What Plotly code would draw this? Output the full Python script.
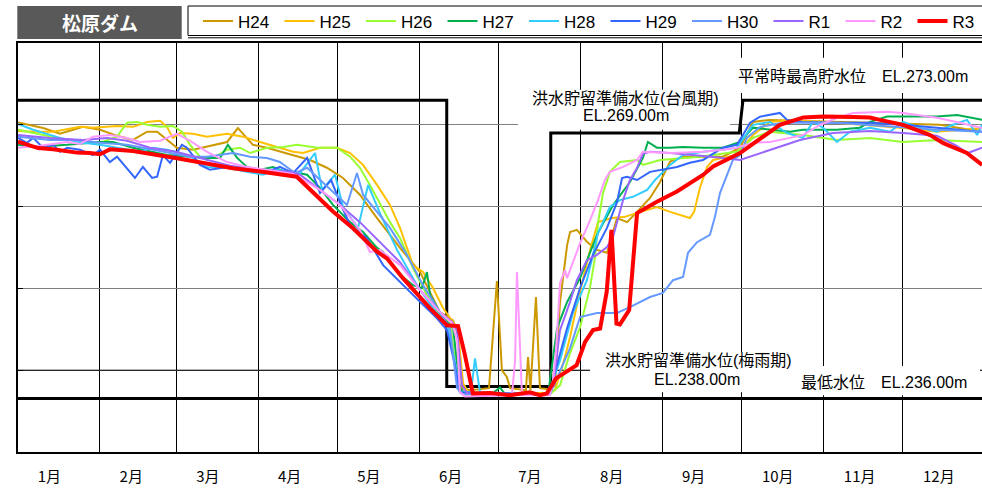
import plotly.graph_objects as go

# ---------------- data (day of year, elevation EL.m) ----------------
SERIES = ["H24", "H25", "H26", "H27", "H28", "H29", "H30", "R1", "R2", "R3"]
COLORS = ["#CC9900", "#FFC000", "#99FF33", "#00B050", "#33CCFF",
          "#3366FF", "#6699FF", "#9966FF", "#FF99FF", "#FF0000"]

H24_DAY = [0, 9.5, 15.9, 24.6, 31.1, 37.5, 43.6, 48.9, 52.7, 60.2, 66.3, 73.9, 79.2, 83.3, 89, 94.3, 104.2, 110.6, 117,
           123.1, 129.5, 136, 144.7, 152.3, 159.8, 164.8, 166.7, 168.2, 171.2, 178.4, 181.4, 183.3, 185.2, 186.4, 192.4,
           193.2, 194.1, 196.2, 197.7, 201.5, 203.4, 205.3, 208, 209.1, 211.7, 215.5, 219.3, 223.1, 226.9, 230.7, 234.5,
           239.4, 243.2, 247, 251.9, 259.5, 267, 273.5, 278.4, 284.8, 296.2, 315.2, 334.1, 349.2, 360.6, 365.2]
H24_EL = [270.3, 269.6, 268.9, 269.75, 269.4, 268.65, 268.15, 269.15, 269.15, 267.2, 266.95, 267.55, 267.9, 269.6, 267.55,
          267.2, 266.3, 265.7, 264.75, 263.5, 261.45, 258.6, 254.95, 252.0, 247.1, 246.1, 244.3, 237.8, 237.55, 237.8,
          250.9, 240.0, 239.15, 237.8, 237.55, 241.6, 237.55, 248.95, 237.8, 237.65, 238.15, 248.3, 255.3, 256.9, 257.15,
          255.7, 254.7, 254.35, 258.6, 258.1, 259.35, 261.05, 263.0, 265.5, 266.1, 266.1, 266.1, 267.2, 270.35, 270.6,
          270.5, 270.35, 270.1, 270.0, 269.4, 269.6]

H25_DAY = [0, 5.7, 13.3, 23.5, 28.4, 34.8, 37.5, 43.6, 48.9, 53.8, 56.4, 58.7, 61.4, 66.3, 71.6, 79.2, 85.2, 91.7, 98.1,
           104.2, 108, 114.4, 120.8, 125.8, 130.7, 136, 140.9, 144.7, 149.6, 153.4, 157.2, 161, 164.8, 166.7, 168.6, 170.5,
           182.6, 199.6, 203.4, 207.2, 209.1, 212.1, 216.7, 219.7, 225, 229.9, 235.6, 242, 247, 254.5, 256.1, 258.3, 261,
           263.3, 272.3, 278.4, 284.8, 292.4, 310.2, 335.2, 348.1, 365.2]
H25_EL = [269.25, 269.15, 269.15, 269.75, 269.65, 269.75, 269.85, 269.75, 270.35, 270.5, 269.75, 268.4, 269.0, 268.9,
          268.55, 268.9, 268.55, 267.9, 267.3, 266.7, 266.55, 267.2, 267.2, 266.55, 265.1, 262.65, 260.2, 257.4, 252.85,
          252.0, 250.05, 247.6, 245.9, 244.55, 238.4, 237.3, 237.2, 237.2, 237.55, 241.6, 244.05, 248.55, 254.7, 258.1,
          258.6, 258.75, 259.35, 259.95, 259.35, 258.6, 259.35, 262.3, 264.85, 265.7, 266.3, 268.75, 270.35, 270.6,
          270.25, 269.6, 269.15, 269.6]

H26_DAY = [0, 9.5, 18.6, 31.1, 37.5, 41.3, 45.1, 48.9, 53.8, 58.7, 62.1, 65.2, 68.9, 73.9, 79.2, 84.1, 87.9, 94.3, 100.4,
           105.7, 113.3, 120.8, 125.8, 129.5, 133.3, 140.9, 144.7, 149.6, 154.9, 159.8, 163.6, 165.5, 167.4, 171.2, 201.5,
           205.3, 209.1, 212.9, 216.7, 218.6, 219.7, 221.6, 224.2, 228, 234.5, 236.7, 243.2, 258.3, 272.3, 278.4, 284.8,
           297.3, 310.2, 322.7, 335.2, 348.1, 365.2]
H26_EL = [269.4, 268.75, 268.15, 267.8, 268.55, 270.25, 270.35, 270.0, 269.75, 269.85, 269.15, 267.55, 266.1, 265.95,
          266.95, 267.2, 266.55, 267.2, 267.3, 267.55, 267.2, 267.2, 266.1, 264.75, 262.65, 258.1, 256.15, 252.5, 249.2,
          246.75, 245.9, 241.2, 237.3, 237.05, 237.05, 238.15, 242.1, 245.25, 250.15, 253.85, 258.0, 261.65, 264.25,
          265.45, 265.7, 265.1, 265.7, 266.1, 266.7, 268.4, 269.15, 268.75, 268.15, 268.4, 267.9, 268.15, 267.9]

H27_DAY = [0, 5.7, 18.6, 31.1, 36, 43.6, 56.4, 64, 71.6, 76.5, 79.5, 83, 86.7, 91.7, 96.6, 100.4, 104.2, 109.5, 114.4,
           119.3, 125.8, 130.7, 136, 138.3, 144.7, 149.6, 153, 154.9, 156.1, 161, 164.8, 167.4, 169.7, 179.9, 182.6, 184.5,
           200.8, 204.2, 208, 212.9, 219.3, 225.4, 231.8, 236.7, 238.6, 242, 247, 251.9, 259.5, 267, 273.5, 278.4, 284.8,
           292.4, 297.3, 310.2, 318.9, 322.7, 329.2, 335.2, 348.1, 355.7, 360.6, 365.2]
H27_EL = [267.55, 267.3, 267.55, 267.9, 267.9, 267.2, 266.3, 266.1, 265.95, 265.95, 267.55, 265.95, 264.85, 264.5, 264.85,
          264.35, 264.25, 263.9, 262.3, 260.2, 258.1, 256.9, 254.95, 254.45, 251.65, 250.4, 250.05, 252.0, 249.2, 246.35,
          245.15, 237.8, 237.05, 237.2, 237.9, 237.05, 237.05, 245.15, 248.35, 251.25, 256.55, 260.2, 263.0, 265.95, 267.9,
          267.2, 267.2, 267.3, 267.2, 267.2, 267.9, 269.65, 269.4, 269.15, 269.4, 269.4, 269.65, 270.35, 271.0, 271.0,
          271.0, 271.2, 270.85, 270.6]

H28_DAY = [0, 5.7, 15.9, 24.6, 31.1, 37.5, 46.2, 51.1, 56.4, 61.4, 66.3, 71.6, 79.2, 86.7, 92.8, 98.1, 106.8, 112.5, 115.2,
           120.1, 123.1, 128.8, 132.6, 137.1, 143.6, 151.1, 157.2, 162.5, 165.5, 167.4, 171.6, 173.1, 175, 200.8, 205.3,
           210.2, 215.5, 219.7, 224.2, 228, 232.9, 238.3, 241.3, 247, 251.9, 259.5, 267, 272.3, 278.4, 284.8, 291.3, 297.3,
           301.1, 304.9, 310.2, 315.2, 322.7, 330.3, 335.2, 341.7, 348.1, 354.2, 359.5, 363.3, 365.2]
H28_EL = [270.1, 269.4, 268.4, 267.8, 267.55, 267.2, 266.7, 267.2, 266.95, 266.55, 265.95, 264.85, 264.75, 264.25, 263.9,
          264.5, 264.1, 266.55, 262.05, 263.9, 259.95, 257.4, 262.65, 259.2, 254.7, 250.4, 247.6, 245.5, 241.0, 237.3,
          237.3, 241.45, 237.3, 237.05, 241.2, 247.0, 251.0, 256.75, 259.95, 260.8, 261.2, 262.05, 263.25, 265.1, 266.3,
          266.7, 266.95, 267.2, 270.0, 270.35, 269.0, 268.4, 270.35, 269.65, 267.9, 269.15, 269.65, 269.15, 270.35,
          269.65, 269.15, 270.0, 270.6, 268.75, 270.0]

H29_DAY = [0, 3.4, 5.7, 9.5, 13.3, 15.9, 18.6, 23.5, 28.4, 31.1, 34.8, 37.5, 44.3, 47.3, 50.8, 52.7, 54.9, 57.6, 62.1, 64,
           68.9, 72.7, 79.2, 87.9, 94.3, 99.2, 104.2, 109.5, 114.4, 118.6, 122.7, 125.8, 132.2, 138.3, 144.7, 152.3, 158.7,
           162.5, 165.5, 167.4, 201.5, 203.4, 208, 212.9, 217.8, 223.1, 226.9, 228.8, 230.7, 234.5, 239.4, 244.3, 249.6,
           254.5, 259.5, 267, 272.3, 274.6, 277.3, 281.1, 288.6, 291.3, 297.3, 310.2, 322.7, 335.2, 348.1, 365.2]
H29_EL = [268.4, 267.8, 268.4, 267.2, 267.55, 266.7, 267.2, 266.95, 266.3, 266.95, 265.45, 266.1, 263.5, 264.85, 263.5,
          263.65, 266.3, 265.35, 267.55, 267.2, 265.1, 264.5, 264.85, 264.5, 264.25, 264.85, 264.1, 265.95, 261.65, 263.25,
          259.95, 257.75, 256.15, 252.85, 250.75, 248.35, 246.35, 244.9, 240.6, 237.3, 237.05, 239.75, 245.15, 250.05,
          254.1, 257.4, 260.55, 263.5, 263.65, 263.25, 264.25, 264.5, 264.85, 265.35, 265.7, 267.2, 267.55, 268.75, 270.25,
          271.0, 271.45, 270.6, 270.35, 270.25, 270.25, 270.0, 269.65, 269.15]

H30_DAY = [0, 12.1, 22.3, 31.1, 41.3, 51.1, 58.7, 65.2, 71.6, 81.4, 87.9, 94.3, 99.2, 104.9, 109.5, 119.3, 124.6, 128.4,
           130.7, 136, 140.9, 147.3, 153.4, 159.8, 163.6, 166.3, 168.2, 201.5, 204.2, 209.1, 212.9, 219.3, 226.9, 231.8,
           239.4, 244.3, 248.1, 251.9, 253.8, 257.2, 262.1, 264, 265.9, 267.8, 270.8, 273.5, 276.1, 281.1, 289.8, 310.2,
           335.2, 348.1, 365.2]
H30_EL = [268.55, 268.15, 268.15, 267.8, 267.55, 266.95, 266.55, 266.1, 266.1, 266.55, 266.1, 265.95, 265.45, 264.1,
          264.75, 261.8, 260.2, 264.1, 261.45, 259.35, 257.4, 254.1, 250.4, 247.1, 245.15, 237.8, 237.05, 237.05, 239.0,
          242.7, 246.5, 247.0, 247.0, 247.7, 248.95, 249.45, 251.0, 251.4, 254.35, 255.65, 256.55, 258.75, 261.65, 263.25,
          265.7, 266.3, 268.4, 269.75, 270.25, 270.25, 269.75, 269.4, 269.15]

R1_DAY = [0, 12.1, 24.6, 33.7, 41.3, 50, 59.8, 68.9, 80.3, 91.7, 103, 106.8, 114.4, 122, 129.5, 137.1, 144.7, 152.3, 159.8,
          164.4, 166.3, 168.2, 170.1, 200.8, 202.7, 205.3, 209.1, 211.7, 215.5, 219.3, 223.1, 225.4, 226.9, 229.2, 231.8,
          234.5, 236.7, 239.4, 247, 259.5, 273.5, 284.8, 296.2, 308.7, 322.7, 335.2, 348.1, 354.9, 359.8, 365.2]
R1_EL = [268.75, 268.4, 268.15, 268.4, 268.05, 267.2, 266.7, 265.95, 265.0, 264.5, 264.25, 263.9, 262.05, 260.2, 258.1,
         255.65, 253.2, 249.8, 247.1, 245.9, 244.9, 238.15, 237.2, 237.05, 238.15, 244.9, 248.35, 251.0, 253.45, 254.1,
         255.05, 256.3, 258.0, 260.8, 263.25, 264.75, 266.45, 266.7, 266.55, 266.2, 265.7, 266.95, 268.15, 269.0, 269.25,
         269.0, 268.65, 267.55, 266.55, 267.2]

R2_DAY = [0, 8.3, 18.6, 23.5, 28.4, 34.8, 41.3, 46.2, 53.8, 60.2, 65.2, 71.6, 79.2, 86.7, 94.3, 104.2, 114.4, 122, 129.5,
          133.3, 137.1, 144.7, 152.3, 159.8, 164.4, 166.3, 167.4, 169.3, 187.1, 188.3, 189, 189.8, 190.9, 201.5, 202.7,
          203.8, 205.3, 207.2, 208, 212.9, 216.7, 219.7, 222.3, 224.2, 229.2, 234.5, 236.7, 247, 259.5, 267, 272.3, 278.4,
          284.8, 292.4, 297.3, 303.8, 310.2, 316.3, 329.2, 335.2, 348.1, 356.8, 365.2]
R2_EL = [267.2, 267.45, 267.9, 267.65, 268.55, 268.75, 268.4, 267.9, 268.05, 268.9, 268.05, 266.7, 265.45, 264.85, 264.5,
         264.0, 262.05, 260.2, 257.15, 254.45, 254.7, 252.85, 249.8, 247.1, 245.75, 243.65, 237.3, 236.8, 236.95, 241.2,
         252.0, 244.9, 236.95, 236.95, 238.8, 242.45, 250.65, 252.25, 251.25, 255.55, 258.35, 260.8, 263.25, 264.25,
         264.85, 265.7, 266.7, 266.55, 266.7, 266.95, 267.2, 267.8, 267.9, 268.4, 268.75, 270.0, 270.85, 271.45, 271.6,
         271.45, 270.85, 270.25, 269.6]

R3_DAY = [0, 7.6, 13.3, 22.3, 27.3, 31.1, 34.8, 43.6, 60.2, 81.4, 91.7, 105.6, 119.3, 126.9, 136, 139.8, 145.8, 156.1,
          162.5, 166.7, 169.3, 172.3, 178.8, 186.4, 193.9, 197.7, 200.3, 203.8, 211.6, 214.8, 217.8, 220.5, 223, 224.8,
          226.7, 228, 231.5, 234.5, 242, 249.6, 259.6, 263.3, 273.5, 281.1, 288.6, 297.5, 305, 316.4, 322.7, 326.5, 335.3,
          345.5, 350.5, 359.4, 365.2]
R3_EL = [267.95, 267.15, 267.0, 266.6, 266.55, 266.4, 267.0, 266.8, 265.9, 264.7, 264.3, 263.65, 259.4, 257.35, 254.5,
         253.65, 251.25, 247.55, 245.5, 245.4, 241.85, 237.15, 237.2, 236.95, 237.3, 236.95, 237.15, 239.0, 240.6, 243.45,
         244.9, 245.1, 249.6, 257.15, 245.7, 245.6, 247.35, 259.2, 260.6, 261.85, 263.9, 264.9, 266.55, 268.35, 270.0,
         270.9, 271.0, 270.95, 270.9, 270.6, 270.0, 268.75, 267.75, 266.55, 265.1]

# operating rule curve (洪水貯留準備水位 / 平常時最高貯水位)
RULE_DAY = [0, 162.4, 162.4, 201.8, 201.8, 273.2, 274.6, 365.2]
RULE_EL = [273, 273, 238, 238, 269, 269, 273, 273]
MIN_LEVEL_DAY = [0, 365.2]
MIN_LEVEL_EL = [236.55, 236.55]   # 最低水位 line as drawn

MONTH_START = [0, 31, 60, 91, 121, 152, 182, 213, 244, 274, 305, 335]
MONTH_LABEL_POS = [11.9, 42.9, 71.9, 102.9, 132.9, 163.9, 193.9, 224.9, 255.9, 287.8, 318.8, 348.8]
MONTH_LABELS = ["1月", "2月", "3月", "4月", "5月", "6月", "7月", "8月", "9月", "10月", "11月", "12月"]
Y_GRID = [240, 250, 260, 270]

DATA = {
    "H24": (H24_DAY, H24_EL), "H25": (H25_DAY, H25_EL), "H26": (H26_DAY, H26_EL),
    "H27": (H27_DAY, H27_EL), "H28": (H28_DAY, H28_EL), "H29": (H29_DAY, H29_EL),
    "H30": (H30_DAY, H30_EL), "R1": (R1_DAY, R1_EL), "R2": (R2_DAY, R2_EL), "R3": (R3_DAY, R3_EL),
}

LAT = "Liberation Sans, Arial, Noto Sans CJK JP"
CJK = "Noto Sans CJK JP, Liberation Sans"

fig = go.Figure()

# rule curves
fig.add_trace(go.Scatter(x=RULE_DAY, y=RULE_EL, mode="lines", line=dict(color="black", width=3),
                         showlegend=False, hoverinfo="skip"))
fig.add_trace(go.Scatter(x=MIN_LEVEL_DAY, y=MIN_LEVEL_EL, mode="lines", line=dict(color="black", width=3),
                         showlegend=False, hoverinfo="skip"))

for name, color in zip(SERIES, COLORS):
    d, v = DATA[name]
    fig.add_trace(go.Scatter(
        x=d, y=v, mode="lines", name=name,
        line=dict(color=color, width=4 if name == "R3" else 2),
        legendwidth=27 if name.startswith("R") else 36.5,
    ))

W, H = 982, 488
ML, MR, MT, MB = 18, 0, 43, 36
PW, PH = W - ML - MR, H - MT - MB


def px(xp):
    return (xp - ML) / PW


def py(yp):
    return (H - MB - yp) / PH


shapes = [
    # 240 black grid line
    dict(type="line", xref="x", yref="y", x0=0, x1=365.2, y0=240, y1=240,
         line=dict(color="black", width=1), layer="between"),
    # white text boxes
    dict(type="rect", xref="x", yref="y", x0=189.4, x1=269.7, y0=269.4, y1=274.3,
         fillcolor="white", line=dict(width=0), layer="between"),
    dict(type="rect", xref="x", yref="y", x0=271.6, x1=363.6, y0=273.9, y1=278.2,
         fillcolor="white", line=dict(width=0), layer="between"),
    dict(type="rect", xref="x", yref="y", x0=216.7, x1=296.2, y0=237.3, y1=242.2,
         fillcolor="white", line=dict(width=0), layer="between"),
    dict(type="rect", xref="x", yref="y", x0=294.3, x1=364.4, y0=236.95, y1=240.5,
         fillcolor="white", line=dict(width=0), layer="between"),
    # title box
    dict(type="rect", xref="paper", yref="paper", x0=px(17.3), x1=px(181.7), y0=py(39), y1=py(6),
         fillcolor="#595959", line=dict(width=0)),
    # legend frame
    dict(type="rect", xref="paper", yref="paper", x0=px(188), x1=px(990), y0=py(35.5), y1=py(6),
         fillcolor="rgba(0,0,0,0)", line=dict(color="black", width=1)),
    dict(type="line", xref="paper", yref="paper", x0=px(188), x1=px(990), y0=py(37.8), y1=py(37.8),
         line=dict(color="black", width=1)),
]

annotations = [
    dict(text="<b>松原ダム</b>", xref="paper", yref="paper", x=px(99.5), y=py(22.5),
         showarrow=False, font=dict(family=CJK, size=19, color="white"), xanchor="center", yanchor="middle"),
    dict(text="洪水貯留準備水位(台風期)", x=230.3, y=273.18, showarrow=False,
         font=dict(family=LAT, size=16, color="black"), xanchor="center", yanchor="middle"),
    dict(text="EL.269.00m", x=230.3, y=271.1, showarrow=False,
         font=dict(family=LAT, size=16, color="black"), xanchor="center", yanchor="middle"),
    dict(text="平常時最高貯水位\u3000EL.273.00m", x=316.4, y=275.87, showarrow=False,
         font=dict(family=LAT, size=16, color="black"), xanchor="center", yanchor="middle"),
    dict(text="洪水貯留準備水位(梅雨期)", x=257.6, y=241.14, showarrow=False,
         font=dict(family=LAT, size=16, color="black"), xanchor="center", yanchor="middle"),
    dict(text="EL.238.00m", x=257.1, y=238.9, showarrow=False,
         font=dict(family=LAT, size=16, color="black"), xanchor="center", yanchor="middle"),
    dict(text="最低水位\u3000EL.236.00m", x=327.9, y=238.45, showarrow=False,
         font=dict(family=LAT, size=16, color="black"), xanchor="center", yanchor="middle"),
]

fig.update_layout(
    width=W, height=H,
    margin=dict(l=ML, r=MR, t=MT, b=MB, autoexpand=False),
    paper_bgcolor="white", plot_bgcolor="white",
    showlegend=True,
    legend=dict(orientation="h", x=px(985), y=py(21.5), xanchor="right", yanchor="middle",
                font=dict(family=LAT, size=17, color="black"),
                bgcolor="rgba(0,0,0,0)", borderwidth=0, traceorder="normal"),
    shapes=shapes, annotations=annotations,
    xaxis=dict(range=[0, 365.15], tickmode="array", tickvals=MONTH_LABEL_POS, ticktext=MONTH_LABELS,
               ticks="", showgrid=False, zeroline=False,
               tickfont=dict(family=CJK, size=15, color="black"), ticklabelstandoff=10,
               showline=True, linecolor="black", linewidth=2, mirror=True,
               minor=dict(tickmode="array", tickvals=MONTH_START, showgrid=True,
                          gridcolor="black", gridwidth=1, ticks="")),
    yaxis=dict(range=[230, 280], tickmode="array", tickvals=Y_GRID, showticklabels=False,
               showgrid=True, gridcolor="#808080", gridwidth=1, zeroline=False,
               ticks="inside", ticklen=5, tickcolor="black",
               showline=True, linecolor="black", linewidth=2, mirror=False),
)

fig.write_html("out.html", config={"displayModeBar": False},
               post_script="document.body.style.margin='0';document.body.style.overflow='hidden';")
